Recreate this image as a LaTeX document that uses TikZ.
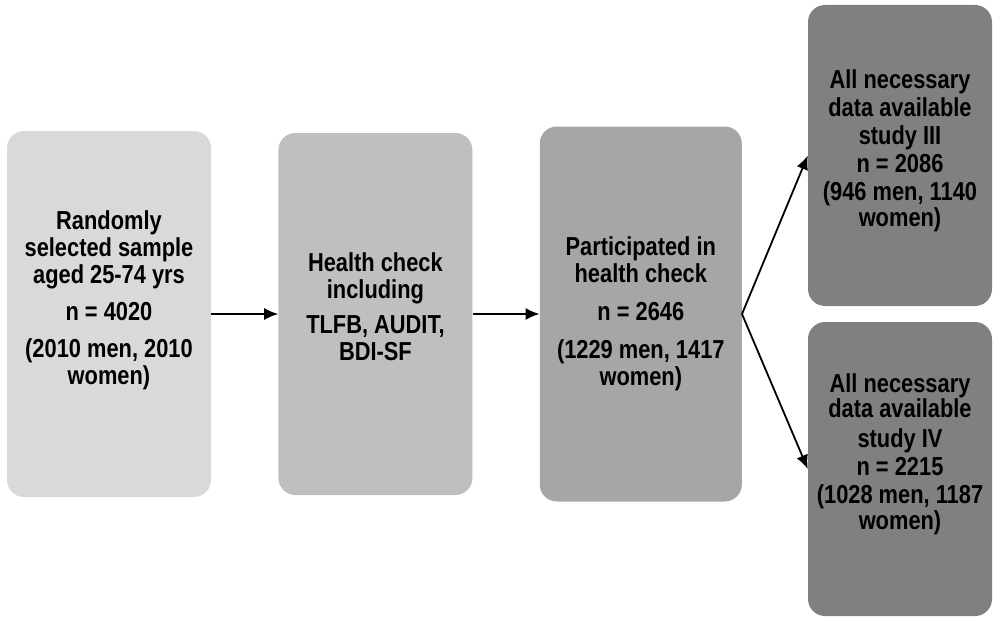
\documentclass[tikz,border=0pt]{standalone}
\usepackage{fontspec}
\setmainfont{Liberation Sans}[FakeStretch=0.84]
\usepackage{tikz}
\usetikzlibrary{arrows.meta,positioning}

\definecolor{grayA}{HTML}{D9D9D9}
\definecolor{grayB}{HTML}{BFBFBF}
\definecolor{grayC}{HTML}{A6A6A6}
\definecolor{grayD}{HTML}{808080}

\begin{document}
\begin{tikzpicture}[
  x=1pt, y=-1pt, >={Latex[length=14pt,width=12pt]},
  every node/.style={font=\fontsize{26}{27}\selectfont\bfseries},
  box/.style={rounded corners=17pt, inner sep=0pt},
  txt/.style={align=center, inner sep=0pt},
  link/.style={->, line width=1.8pt}
]
  \useasboundingbox (0,0) rectangle (993,618);

  \node[box, fill=grayA, minimum width=204pt, minimum height=366pt,
        label={[txt, yshift=14pt]center:{Randomly\\ selected sample\\
        aged 25-74 yrs\\[10pt] n = 4020\\[10pt] (2010 men, 2010\\ women)}}]
    (sample) at (109,314) {};
  \node[box, fill=grayB, minimum width=194pt, minimum height=362pt,
        right=67pt of sample,
        label={[txt, yshift=7pt]center:{Health check\\ including\\[8pt]
        TLFB, AUDIT,\\ BDI-SF}}]
    (check) {};
  \node[box, fill=grayC, minimum width=202pt, minimum height=375pt,
        right=67pt of check,
        label={[txt]center:{Participated in\\ health check\\[11pt]
        n = 2646\\[11pt] (1229 men, 1417\\ women)}}]
    (part) {};
  \node[box, fill=grayD, minimum width=184pt, minimum height=301pt,
        label={[txt, yshift=5pt]center:{All necessary\\[1pt] data available\\[1pt]
        study III\\[1pt] n = 2086\\[1pt] (946 men, 1140\\[-1pt] women)}}]
    (study3) at (900,155.5) {};
  \node[box, fill=grayD, minimum width=184pt, minimum height=294pt,
        label={[txt, yshift=15pt]center:{All necessary\\[-2pt] data available\\[3pt]
        study IV\\[1pt] n = 2215\\[1pt] (1028 men, 1187\\[-1pt] women)}}]
    (study4) at (900,469) {};

  \coordinate (split) at (part.east);
  \draw[link] (sample) -- (check);
  \draw[link] (check) -- (part);
  \draw[link] (split) -- (study3.west);
  \draw[link] (split) -- (study4.west);
\end{tikzpicture}
\end{document}
